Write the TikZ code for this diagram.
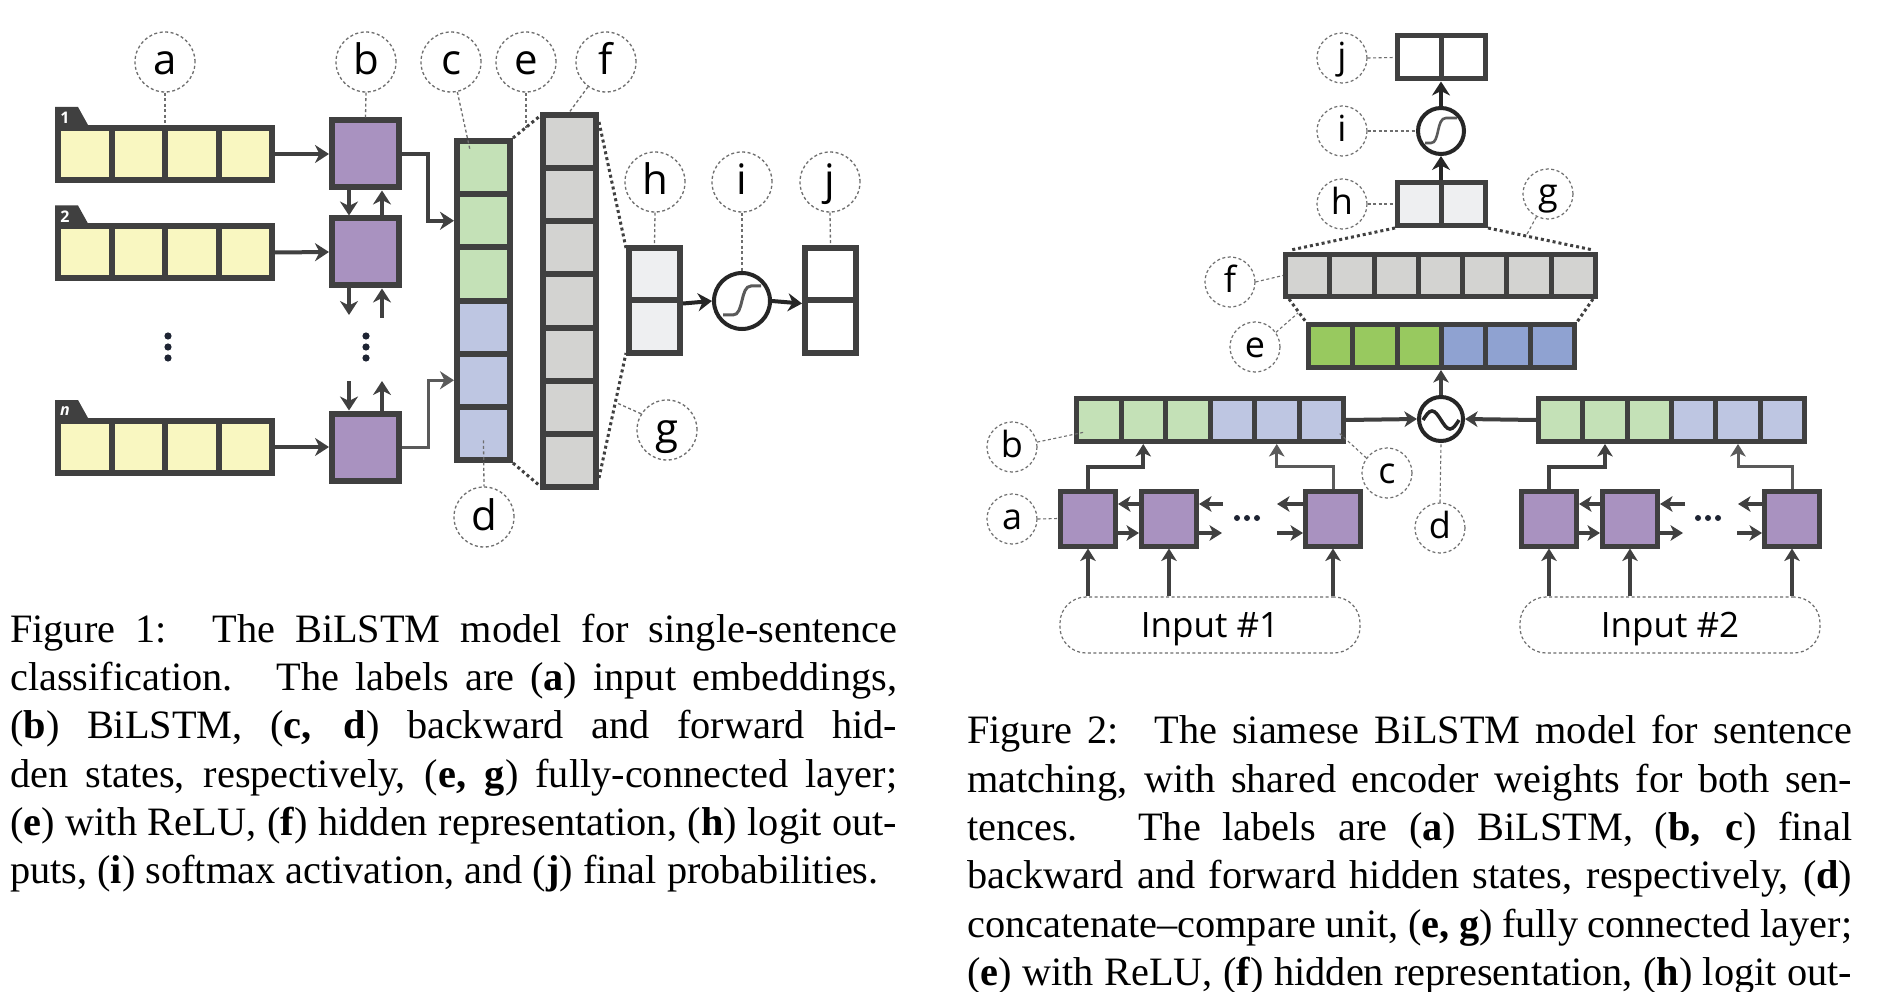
\documentclass[tikz,border=0pt]{standalone}
\usepackage{fontspec}
\setmainfont{Liberation Serif}
\newfontfamily\lblfont{Open Sans}
\usetikzlibrary{arrows.meta}
\definecolor{dk}{HTML}{404040}
\definecolor{dkl}{HTML}{5A5A5A}
\definecolor{blk}{HTML}{262626}
\definecolor{lbl}{HTML}{6E6E6E}
\definecolor{ylw}{HTML}{F9F7C1}
\definecolor{pur}{HTML}{A992C0}
\definecolor{lgrn}{HTML}{C4E1B7}
\definecolor{lblu}{HTML}{BEC6E2}
\definecolor{gry}{HTML}{D3D3D1}
\definecolor{hgry}{HTML}{EEEFF1}
\definecolor{bgrn}{HTML}{98C95F}
\definecolor{bblu}{HTML}{8FA2D1}
\definecolor{dotc}{HTML}{1E2433}
\begin{document}
\begin{tikzpicture}[x=1pt,y=-1pt,
  lcell/.style={rectangle, draw=dk, line width=6pt, inner sep=0pt},
  rcell/.style={rectangle, draw=dk, line width=5pt, inner sep=0pt},
  arr/.style={draw=dk, line width=4pt, -{Stealth[length=14pt,width=18pt,inset=4.5pt]}},
  varr/.style={draw=dk, line width=4.5pt, -{Stealth[length=14pt,width=18pt,inset=4.5pt]}},
  arrl/.style={draw=dkl, line width=3pt, -{Stealth[length=14pt,width=18pt,inset=4.5pt]}},
  darr/.style={draw=blk, line width=4pt, -{Stealth[length=14pt,width=18pt,inset=4.5pt]}},
  rarr/.style={draw=dk, line width=4pt, -{Stealth[length=12.5pt,width=15.5pt,inset=3.5pt]}},
  rarrl/.style={draw=dkl, line width=3pt, -{Stealth[length=12.5pt,width=15.5pt,inset=3.5pt]}},
  dotconn/.style={draw=dk, line width=3pt, dash pattern=on 3pt off 3pt},
  lblline/.style={draw=lbl, line width=1.3pt, dash pattern=on 3pt off 2.5pt},
  lblL/.style={circle, draw=lbl, line width=1.3pt, dash pattern=on 3pt off 2.5pt, minimum size=60pt, inner sep=0pt, font=\lblfont\fontsize{42}{42}\selectfont, text height=26pt, text depth=0pt},
  lblR/.style={circle, draw=lbl, line width=1.2pt, dash pattern=on 3pt off 2.5pt, minimum size=50pt, inner sep=0pt, font=\lblfont\fontsize{36}{36}\selectfont, text height=21pt, text depth=0pt},
  inbox/.style={rectangle, rounded corners=26pt, draw=lbl, line width=1.2pt, dash pattern=on 3pt off 2.5pt, minimum width=300pt, minimum height=56pt, inner sep=0pt, font=\lblfont\fontsize{35}{35}\selectfont, text height=25pt, text depth=0pt},
  capline/.style={anchor=base west, inner sep=0pt, font=\fontsize{40.3}{48}\selectfont},
  tabtxt/.style={inner sep=0pt, text=white, font=\lblfont\bfseries\fontsize{16}{16}\selectfont}
]
\useasboundingbox[fill=white] (0,0) rectangle (1888,992);

%================ FIGURE 1 =================
% input rows
\foreach \r/\yy in {1/154, 2/252.5, n/447}{
  \foreach \k in {1,...,4}{
    \node[lcell, fill=ylw, minimum width=53.5pt, minimum height=52pt] (row\r-\k) at ({84.75+53.5*(\k-1)},\yy) {};
  }
  \fill[dk] (55,\yy-47) -- (78,\yy-47) -- (88,\yy-29) -- (55,\yy-29) -- cycle;
}
\node[tabtxt] (tab1) at (65,118) {1};
\node[tabtxt] (tab2) at (65,216.5) {2};
\node[tabtxt] (tabn) at (65,411) {\itshape n};

% BiLSTM boxes
\node[lcell, fill=pur, minimum size=67pt] (b1) at (365.5,154) {};
\node[lcell, fill=pur, minimum size=67pt] (b2) at (365.5,252) {};
\node[lcell, fill=pur, minimum size=67pt] (bn) at (365.5,447) {};

\draw[arr] (row1-4.east) -- (b1.west);
\draw[arr] (row2-4.east) -- (b2.west);
\draw[arr] (rown-4.east) -- (bn.west);

\draw[varr] ([xshift=-16.5pt]b1.south) -- ([xshift=-16.5pt]b2.north);
\draw[varr] ([xshift=16.5pt]b2.north) -- ([xshift=16.5pt]b1.south);
\coordinate (b2dn) at (349,315);
\coordinate (b2up) at (382,318);
\coordinate (bndn) at (349,381);
\coordinate (bnup) at (382,381);
\draw[varr] ([xshift=-16.5pt]b2.south) -- (b2dn);
\draw[varr] (b2up) -- ([xshift=16.5pt]b2.south);
\draw[varr] (bndn) -- ([xshift=-16.5pt]bn.north);
\draw[varr] ([xshift=16.5pt]bn.north) -- (bnup);

% vertical dots
\foreach \xx in {168,366}{
  \foreach \yy in {336,347,358}{
    \fill[dotc] (\xx,\yy) circle (3.6pt);
  }
}

% hidden state column c/d
\foreach \k/\c in {1/lgrn,2/lgrn,3/lgrn,4/lblu,5/lblu,6/lblu}{
  \node[lcell, fill=\c, minimum width=53pt, minimum height=53.17pt] (cd\k) at (483.5,{141+53.17*(\k-0.5)}) {};
}
\draw[arr] (b1.east) -- ++(26,0) |- (cd2.west);
\draw[arrl] (bn.east) -- ++(26,0) |- (cd5.west);

% gray column f
\foreach \k in {1,...,7}{
  \node[lcell, fill=gry, minimum width=53pt, minimum height=53.14pt] (gr\k) at (569.5,{115+53.14*(\k-0.5)}) {};
}
% h box and j box
\foreach \k in {1,2}{
  \node[lcell, fill=hgry, minimum width=51pt, minimum height=52.5pt] (h\k) at (654.5,{248+52.5*(\k-0.5)}) {};
  \node[lcell, fill=white, minimum width=51pt, minimum height=52.5pt] (j\k) at (830.5,{248+52.5*(\k-0.5)}) {};
}
\node[circle, draw=blk, line width=4pt, fill=white, minimum size=56pt, inner sep=0pt] (sig) at (742,301) {};
\draw[dkl, line width=3pt] (723,315) -- (733,315) .. controls (744,315) and (740,286) .. (751,286) -- (761,286);
\draw[darr] (h1.south east) -- (sig.west);
\draw[darr] (sig.east) -- (j1.south west);

% dotted fully-connected lines
\draw[dotconn] (cd1.north east) -- ([yshift=-4pt]gr1.north west);
\draw[dotconn] (cd6.south east) -- ([yshift=4pt]gr7.south west);
\draw[dotconn] ([yshift=-10pt]gr1.north east) -- ([yshift=-3pt]h1.north west);
\draw[dotconn] ([yshift=12pt]gr7.south east) -- ([yshift=3pt]h2.south west);

% labels fig 1
\node[lblL] (la) at (165,62) {a};
\node[lblL] (lb) at (366,62) {b};
\node[lblL] (lc) at (451,62) {c};
\node[lblL] (le) at (526,62) {e};
\node[lblL] (lf) at (606,62) {f};
\node[lblL] (lh) at (655,182) {h};
\node[lblL] (li) at (742,182) {i};
\node[lblL] (lj) at (830,182) {j};
\node[lblL] (lg) at (667,430) {g};
\node[lblL] (ld) at (484,517) {d};

\coordinate (cend) at (470,150);
\coordinate (eend) at (526,128);
\coordinate (gend) at (617,403);
\draw[lblline] (la.south) -- (la.south |- row1-2.north);
\draw[lblline] (lb.south) -- (b1.north);
\draw[lblline] (lc.-78) -- (cend);
\draw[lblline] (le.south) -- (eend);
\draw[lblline] (lf.-126) -- (gr1.north);
\draw[lblline] (lh.south) -- (h1.north);
\draw[lblline] (li.south) -- (sig.north);
\draw[lblline] (lj.south) -- (j1.north);
\draw[lblline] (lg.148) -- (gend);
\draw[lblline] ([yshift=-7pt]cd6.center) -- (ld.north);

%================ FIGURE 2 =================
% BiLSTM output rows
\foreach \k/\c in {1/lgrn,2/lgrn,3/lgrn,4/lblu,5/lblu,6/lblu}{
  \node[rcell, fill=\c, minimum width=44.5pt, minimum height=43pt] (bcL\k) at ({1098.75+44.5*(\k-1)},420) {};
  \node[rcell, fill=\c, minimum width=44.33pt, minimum height=43pt] (bcR\k) at ({1560.67+44.33*(\k-1)},420) {};
}
% e row
\foreach \k/\c in {1/bgrn,2/bgrn,3/bgrn,4/bblu,5/bblu,6/bblu}{
  \node[rcell, fill=\c, minimum width=44.33pt, minimum height=43pt] (eR\k) at ({1330.67+44.33*(\k-1)},346) {};
}
% f row
\foreach \k in {1,...,7}{
  \node[rcell, fill=gry, minimum width=44.29pt, minimum height=42pt] (fR\k) at ({1307.6+44.29*(\k-1)},275.5) {};
}
% h and j rows
\foreach \k in {1,2}{
  \node[rcell, fill=hgry, minimum width=44pt, minimum height=43pt] (hR\k) at ({1419.5+44*(\k-1)},204) {};
  \node[rcell, fill=white, minimum width=44pt, minimum height=43pt] (jR\k) at ({1419.5+44*(\k-1)},57.5) {};
}
\node[circle, draw=blk, line width=4pt, fill=white, minimum size=46pt, inner sep=0pt] (sigR) at (1441,131) {};
\draw[dkl, line width=2.6pt] (1425,143) -- (1431,143) .. controls (1440,143) and (1436,118) .. (1446,118) -- (1457,118);
\draw[darr] (sigR.south |- hR1.north) -- (sigR.south);
\draw[darr] (sigR.north) -- (sigR.north |- jR1.south);

% compare unit
\node[circle, draw=blk, line width=4pt, fill=white, minimum size=44pt, inner sep=0pt] (cmp) at (1441,419) {};
\draw[blk, line width=3.5pt] (1423,420) sin (1432,411) cos (1441,420) sin (1450,429) cos (1459,420);
\draw[rarr] (bcL6.east) -- (cmp.west);
\draw[rarr] (bcR1.west) -- (cmp.east);
\draw[rarr] (cmp.north) -- (cmp.north |- eR3.south);

% dotted fully-connected lines
\draw[dotconn] (hR1.south west) -- ([xshift=8pt,yshift=2pt]fR1.north west);
\draw[dotconn] (hR2.south east) -- ([xshift=-5pt,yshift=2pt]fR7.north east);
\draw[dotconn] ([xshift=6pt]fR1.south west) -- (eR1.north west);
\draw[dotconn] ([xshift=-5pt]fR7.south east) -- (eR6.north east);

% BiLSTM units
\foreach \s/\xa/\xb/\xc in {L/1088/1169/1333, R/1549/1630/1792}{
  \node[rcell, fill=pur, minimum size=55pt] (p\s1) at (\xa,518.5) {};
  \node[rcell, fill=pur, minimum size=55pt] (p\s2) at (\xb,518.5) {};
  \node[rcell, fill=pur, minimum size=55pt] (p\s3) at (\xc,518.5) {};
}
\node[inbox] (in1) at (1210,625) {Input \#1};
\node[inbox] (in2) at (1670,625) {Input \#2};

\coordinate (uL2) at (1223,504);
\coordinate (uL3) at (1277,504);
\coordinate (dL2) at (1222,533);
\coordinate (dL3) at (1277,533);
\coordinate (uR2) at (1685,504);
\coordinate (uR3) at (1738,504);
\coordinate (dR2) at (1683,533);
\coordinate (dR3) at (1737,533);
\foreach \s in {L,R}{
  \draw[rarr] ([yshift=14.5pt]p\s2.west) -- ([yshift=14.5pt]p\s1.east);
  \draw[rarr] (u\s2) -- ([yshift=14.5pt]p\s2.east);
  \draw[rarr] ([yshift=14.5pt]p\s3.west) -- (u\s3);
  \draw[rarr] ([yshift=-14.5pt]p\s1.east) -- ([yshift=-14.5pt]p\s2.west);
  \draw[rarr] ([yshift=-14.5pt]p\s2.east) -- (d\s2);
  \draw[rarr] (d\s3) -- ([yshift=-14.5pt]p\s3.west);
}
\foreach \k in {1,2,3}{
  \draw[rarr] (pL\k.south |- in1.north) -- (pL\k.south);
  \draw[rarr] (pR\k.south |- in2.north) -- (pR\k.south);
}
\draw[rarr] (pL1.north) -- ++(0,-22) -| (bcL2.south);
\draw[rarrl] (pL3.north) -- ++(0,-22) -| (bcL5.south);
\draw[rarr] (pR1.north) -- ++(0,-22) -| (bcR2.south);
\draw[rarrl] (pR3.north) -- ++(0,-22) -| (bcR5.south);
% horizontal dots
\foreach \xx in {1237,1247,1257,1698,1708,1718}{
  \fill[dotc] (\xx,518) circle (3pt);
}

% labels fig 2
\node[lblR] (rj) at (1342,58) {j};
\node[lblR] (ri) at (1342,131) {i};
\node[lblR] (rh) at (1342,204) {h};
\node[lblR] (rg) at (1548,194) {g};
\node[lblR] (rf) at (1230,282) {f};
\node[lblR] (re) at (1255,347) {e};
\node[lblR] (rb) at (1012,447) {b};
\node[lblR] (ra) at (1012,519) {a};
\node[lblR] (rc) at (1387,473) {c};
\node[lblR] (rd) at (1440,528) {d};

\coordinate (reend) at (1298,313);
\coordinate (rgend) at (1526,236);
\coordinate (rbend) at (1085,432);
\coordinate (rcend) at (1338,432);
\draw[lblline, line width=1.1pt] (rj.east) -- (jR1.west);
\draw[lblline, line width=1.1pt] (ri.east) -- (sigR.west);
\draw[lblline, line width=1.1pt] (rh.east) -- (hR1.west);
\draw[lblline, line width=1.1pt] (rf.east) -- (fR1.west);
\draw[lblline, line width=1.1pt] (re.35) -- (reend);
\draw[lblline, line width=1.1pt] (rg.-117) -- (rgend);
\draw[lblline, line width=1.1pt] (rb.11) -- (rbend);
\draw[lblline, line width=1.1pt] (rc.144) -- (rcend);
\draw[lblline, line width=1.1pt] (ra.east) -- (pL1.west);
\draw[lblline, line width=1.1pt] (rd.north) -- (cmp.south);

%================ CAPTIONS =================
\node[capline] (cl1) at (10,642) {\makebox[887pt][s]{Figure 1:\hspace{0.3em} The BiLSTM model for single-sentence}};
\node[capline] (cl2) at (10,690) {\makebox[887pt][s]{classification.\hspace{0.3em} The labels are (\textbf{a}) input embeddings,}};
\node[capline] (cl3) at (10,738) {\makebox[887pt][s]{(\textbf{b}) BiLSTM, (\textbf{c, d}) backward and forward hid-}};
\node[capline] (cl4) at (10,787) {\makebox[887pt][s]{den states, respectively, (\textbf{e, g}) fully-connected layer;}};
\node[capline] (cl5) at (10,835) {\makebox[887pt][s]{(\textbf{e}) with ReLU, (\textbf{f}) hidden representation, (\textbf{h}) logit out-}};
\node[capline] (cl6) at (10,883) {puts, (\textbf{i}) softmax activation, and (\textbf{j}) final probabilities.};

\node[capline] (cr1) at (967,743) {\makebox[885pt][s]{Figure 2:\hspace{0.3em} The siamese BiLSTM model for sentence}};
\node[capline] (cr2) at (967,792) {\makebox[885pt][s]{matching, with shared encoder weights for both sen-}};
\node[capline] (cr3) at (967,840) {\makebox[885pt][s]{tences.\hspace{0.3em} The labels are (\textbf{a}) BiLSTM, (\textbf{b, c}) final}};
\node[capline] (cr4) at (967,888) {\makebox[885pt][s]{backward and forward hidden states, respectively, (\textbf{d})}};
\node[capline] (cr5) at (967,937) {\makebox[885pt][s]{concatenate–compare unit, (\textbf{e, g}) fully connected layer;}};
\node[capline] (cr6) at (967,985) {\makebox[885pt][s]{(\textbf{e}) with ReLU, (\textbf{f}) hidden representation, (\textbf{h}) logit out-}};
\end{tikzpicture}
\end{document}
